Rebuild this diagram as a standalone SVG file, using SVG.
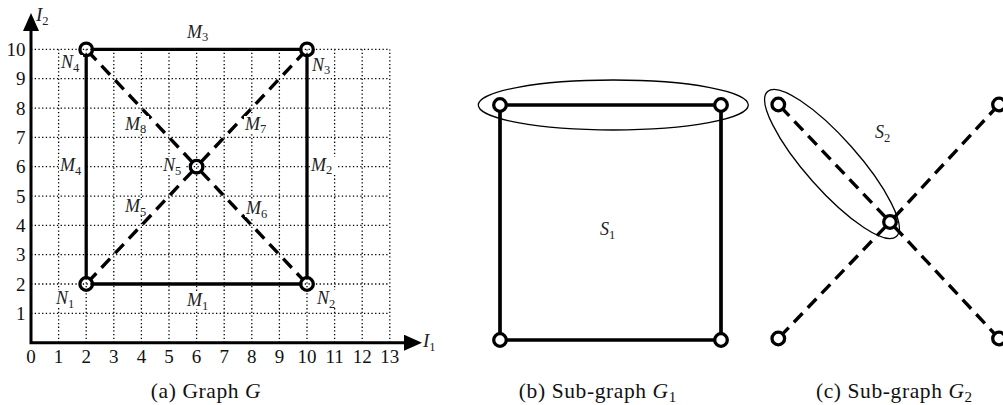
<svg xmlns="http://www.w3.org/2000/svg" width="1003" height="405" viewBox="0 0 1003 405">
<style>
text{font-family:"Liberation Serif","Noto Serif","DejaVu Serif",serif;fill:#111}
.tick{font-size:19px}
.cap{font-size:21.5px;letter-spacing:0.6px}
.lab{font-size:18px;font-style:italic;fill:#222}
.sub{font-size:12.5px;font-style:normal}
.grid{fill:none;stroke:#000;stroke-width:1.3;stroke-dasharray:1.3 2.4}
.solid{fill:none;stroke:#000;stroke-width:3.3}
.thick{fill:none;stroke:#000;stroke-width:3.7}
.dash{fill:none;stroke:#000;stroke-width:3.4;stroke-dasharray:12.5 7.5}
.node{fill:none;stroke:#000;stroke-width:3.3}
.ell{fill:none;stroke:#000;stroke-width:1.3}
.bg{fill:#fff}
.axis{fill:none;stroke:#000;stroke-width:3}
</style>
<defs>
<marker id="arr" viewBox="0 0 18 16" refX="6" refY="8" markerWidth="18" markerHeight="16" markerUnits="userSpaceOnUse" orient="auto-start-reverse">
<path d="M0,0 L18,8 L0,16 Z" fill="#000"/>
</marker>
</defs>
<rect width="1003" height="405" fill="#fff"/>

<!-- (a) grid -->
<g id="grid">
<path class="grid" d="M58.6,342.7V49.4M86.2,342.7V49.4M113.8,342.7V49.4M141.4,342.7V49.4M169,342.7V49.4M196.6,342.7V49.4M224.2,342.7V49.4M251.8,342.7V49.4M279.4,342.7V49.4M307,342.7V49.4M334.6,342.7V49.4M362.2,342.7V49.4M389.8,342.7V49.4M31,313.4H389.8M31,284H389.8M31,254.7H389.8M31,225.4H389.8M31,196.1H389.8M31,166.7H389.8M31,137.4H389.8M31,108.1H389.8M31,78.7H389.8M31,49.4H389.8"/>
</g>
<g id="axes">
<path class="axis" d="M31,25V342.7H410" marker-start="url(#arr)" marker-end="url(#arr)"/>
<text x="36" y="21" class="lab" style="font-size:19px">I<tspan class="sub" dy="3.5">2</tspan></text>
<text x="423" y="347" class="lab" style="font-size:19px">I<tspan class="sub" dy="3.5">1</tspan></text>
<g class="tick" text-anchor="end">
<text x="25.5" y="55.9">10</text><text x="25.5" y="85.2">9</text><text x="25.5" y="114.6">8</text><text x="25.5" y="143.9">7</text><text x="25.5" y="173.2">6</text><text x="25.5" y="202.6">5</text><text x="25.5" y="231.9">4</text><text x="25.5" y="261.2">3</text><text x="25.5" y="290.5">2</text><text x="25.5" y="319.9">1</text>
</g>
<g class="tick" text-anchor="middle">
<text x="31" y="363">0</text><text x="58.6" y="363">1</text><text x="86.2" y="363">2</text><text x="113.8" y="363">3</text><text x="141.4" y="363">4</text><text x="169" y="363">5</text><text x="196.6" y="363">6</text><text x="224.2" y="363">7</text><text x="251.8" y="363">8</text><text x="279.4" y="363">9</text><text x="307" y="363">10</text><text x="334.6" y="363">11</text><text x="362.2" y="363">12</text><text x="389.8" y="363">13</text>
</g>
</g>

<!-- (a) connectors -->
<g id="edges-a">
<path class="solid" d="M92.5,284H300.7"/>
<path class="solid" d="M307,277.7V55.7"/>
<path class="solid" d="M92.5,49.4H300.7"/>
<path class="solid" d="M86.2,277.7V55.7"/>
<path class="dash" d="M192.3,162.1L90.5,54"/>
<path class="dash" d="M200.9,162.1L302.7,54"/>
<path class="dash" d="M192.3,171.3L90.5,279.4"/>
<path class="dash" d="M200.9,171.3L302.7,279.4"/>
</g>
<g id="edge-labels-a">
<rect class="bg" x="186" y="24" width="25" height="17"/><text x="187" y="37.7" class="lab">M<tspan class="sub" dy="3.5">3</tspan></text>
<rect class="bg" x="310" y="157" width="26" height="17"/><text x="311" y="170.7" class="lab">M<tspan class="sub" dy="3.5">2</tspan></text>
<rect class="bg" x="186" y="292" width="25" height="17"/><text x="187" y="306" class="lab">M<tspan class="sub" dy="3.5">1</tspan></text>
<rect class="bg" x="59" y="157" width="25" height="17"/><text x="60" y="171" class="lab">M<tspan class="sub" dy="3.5">4</tspan></text>
<rect class="bg" x="124" y="198" width="25" height="17"/><text x="125" y="212" class="lab">M<tspan class="sub" dy="3.5">5</tspan></text>
<rect class="bg" x="245" y="200" width="25" height="17"/><text x="246" y="214" class="lab">M<tspan class="sub" dy="3.5">6</tspan></text>
<rect class="bg" x="244" y="116" width="25" height="17"/><text x="245" y="129.5" class="lab">M<tspan class="sub" dy="3.5">7</tspan></text>
<rect class="bg" x="124" y="116" width="25" height="17"/><text x="125" y="129.5" class="lab">M<tspan class="sub" dy="3.5">8</tspan></text>
</g>

<!-- (a) nodes -->
<g id="N1"><circle class="node" cx="86.2" cy="284" r="6.3"/><rect class="bg" x="55" y="290" width="23" height="17"/><text x="56" y="304" class="lab">N<tspan class="sub" dy="3.5">1</tspan></text></g>
<g id="N2"><circle class="node" cx="307" cy="284" r="6.3"/><rect class="bg" x="316" y="290" width="23" height="17"/><text x="317" y="304" class="lab">N<tspan class="sub" dy="3.5">2</tspan></text></g>
<g id="N3"><circle class="node" cx="307" cy="49.4" r="6.3"/><rect class="bg" x="311" y="57" width="23" height="17"/><text x="312" y="70.5" class="lab">N<tspan class="sub" dy="3.5">3</tspan></text></g>
<g id="N4"><circle class="node" cx="86.2" cy="49.4" r="6.3"/><rect class="bg" x="60" y="55" width="23" height="16"/><text x="61" y="68" class="lab">N<tspan class="sub" dy="3.5">4</tspan></text></g>
<g id="N5"><circle class="node" cx="196.6" cy="166.7" r="6.3"/><rect class="bg" x="162" y="157" width="23" height="17"/><text x="163" y="171" class="lab">N<tspan class="sub" dy="3.5">5</tspan></text></g>
<text x="206" y="398" class="cap" text-anchor="middle">(a) Graph <tspan font-style="italic">G</tspan></text>

<!-- (b) -->
<g id="edges-b">
<path class="thick" d="M506.3,105H714.7M721,111.3V333.7M714.7,340H506.3M500,333.7V111.3"/>
</g>
<g id="b-TL"><circle class="node" cx="500" cy="105" r="6.3"/></g>
<g id="b-TR"><circle class="node" cx="721" cy="105" r="6.3"/></g>
<g id="b-BL"><circle class="node" cx="500" cy="340" r="6.3"/></g>
<g id="b-BR"><circle class="node" cx="721" cy="340" r="6.3"/></g>
<g id="S1"><ellipse class="ell" cx="613.3" cy="105" rx="135" ry="25"/><text x="600" y="235" class="lab">S<tspan class="sub" dy="3.5">1</tspan></text></g>
<text x="597.5" y="398" class="cap" text-anchor="middle">(b) Sub-graph <tspan font-style="italic">G</tspan><tspan class="sub" dy="3.5" style="font-size:15px;letter-spacing:0">1</tspan></text>

<!-- (c) -->
<g id="edges-c">
<path class="dash" d="M885.7,217.4L782.6,108.9"/>
<path class="dash" d="M894.3,217.4L994.7,109.1"/>
<path class="dash" d="M885.6,226.6L782.7,333.9"/>
<path class="dash" d="M894.3,226.6L994.7,333.9"/>
</g>
<g id="c-TL"><circle class="node" cx="778.3" cy="104.5" r="6.3"/></g>
<g id="c-TR"><circle class="node" cx="999" cy="104.5" r="6.3"/></g>
<g id="c-BL"><circle class="node" cx="778.3" cy="338.5" r="6.3"/></g>
<g id="c-BR"><circle class="node" cx="999" cy="338.5" r="6.3"/></g>
<g id="c-C"><circle class="node" cx="890" cy="222" r="6.3"/></g>
<g id="S2"><ellipse class="ell" cx="832" cy="164" rx="97" ry="26" transform="rotate(48.4 832 164)"/><text x="875" y="138" class="lab">S<tspan class="sub" dy="3.5">2</tspan></text></g>
<text x="894" y="398" class="cap" text-anchor="middle">(c) Sub-graph <tspan font-style="italic">G</tspan><tspan class="sub" dy="3.5" style="font-size:15px;letter-spacing:0">2</tspan></text>
</svg>
